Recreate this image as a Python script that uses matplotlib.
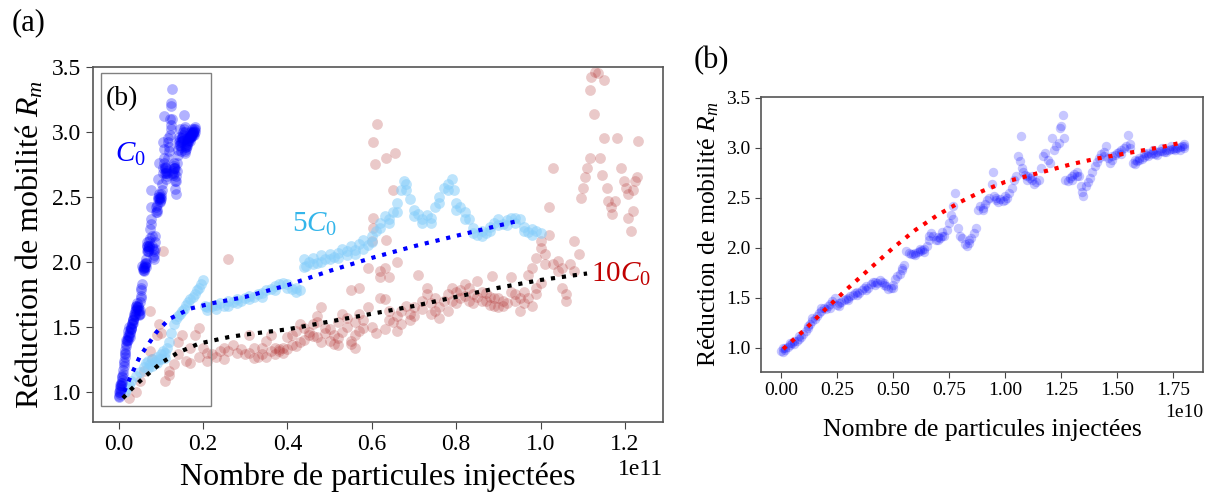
import matplotlib
matplotlib.use("Agg")
import matplotlib.pyplot as plt
from matplotlib.patches import Rectangle
import numpy as np

plt.rcParams['font.family'] = ['Liberation Serif', 'DejaVu Serif']
plt.rcParams['mathtext.fontset'] = 'custom'
plt.rcParams['mathtext.rm'] = 'Liberation Serif'
plt.rcParams['mathtext.it'] = 'Liberation Serif:italic'

# ---------------- data ----------------
# C0 series: x in units of 1e10 injected particles, y = R_m
c0_pts = [
    (0.00, 0.97), (0.01, 0.96), (0.01, 1.00), (0.02, 0.98), (0.03, 1.01), (0.04, 1.03),
    (0.05, 1.05), (0.06, 1.04), (0.07, 1.07), (0.08, 1.09), (0.09, 1.11), (0.10, 1.14),
    (0.11, 1.17), (0.12, 1.20), (0.13, 1.24), (0.14, 1.27), (0.15, 1.29), (0.16, 1.32),
    (0.17, 1.35), (0.18, 1.37), (0.19, 1.40), (0.20, 1.39), (0.21, 1.42), (0.22, 1.44),
    (0.23, 1.47), (0.24, 1.50), (0.25, 1.43), (0.26, 1.42), (0.27, 1.46), (0.28, 1.48),
    (0.29, 1.49), (0.30, 1.50), (0.31, 1.52), (0.32, 1.53), (0.33, 1.55), (0.34, 1.56),
    (0.35, 1.55), (0.36, 1.58), (0.37, 1.60), (0.38, 1.62), (0.39, 1.60), (0.40, 1.64),
    (0.41, 1.66), (0.42, 1.63), (0.43, 1.65), (0.44, 1.68), (0.45, 1.66), (0.46, 1.63),
    (0.47, 1.62), (0.48, 1.59), (0.49, 1.60), (0.50, 1.63), (0.51, 1.69), (0.52, 1.72),
    (0.53, 1.74), (0.54, 1.80), (0.55, 1.83), (0.56, 1.97), (0.57, 1.95), (0.58, 1.94),
    (0.59, 1.94), (0.60, 1.95), (0.61, 1.96), (0.62, 1.97), (0.63, 1.98), (0.64, 1.99),
    (0.65, 2.02), (0.66, 2.08), (0.67, 2.15), (0.68, 2.12), (0.69, 2.08), (0.70, 2.11),
    (0.71, 2.10), (0.72, 2.16), (0.73, 2.12), (0.74, 2.18), (0.75, 2.25), (0.76, 2.33),
    (0.77, 2.42), (0.775, 2.55), (0.77, 2.29), (0.79, 2.20), (0.80, 2.12), (0.81, 2.10),
    (0.82, 2.04), (0.83, 2.02), (0.84, 2.05), (0.85, 2.10), (0.86, 2.15), (0.87, 2.20),
    (0.88, 2.38), (0.89, 2.42), (0.90, 2.40), (0.91, 2.44), (0.92, 2.48), (0.93, 2.50),
    (0.94, 2.64), (0.945, 2.76), (0.95, 2.52), (0.96, 2.48), (0.97, 2.46), (0.98, 2.49),
    (0.99, 2.47), (1.00, 2.52), (1.01, 2.50), (1.02, 2.55), (1.03, 2.60), (1.04, 2.68),
    (1.05, 2.72), (1.06, 2.92), (1.065, 2.87), (1.07, 3.12), (1.075, 2.80), (1.08, 2.76),
    (1.09, 2.73), (1.10, 2.72), (1.11, 2.70), (1.12, 2.68), (1.13, 2.64), (1.14, 2.66),
    (1.15, 2.68), (1.16, 2.80), (1.17, 2.92), (1.18, 2.95), (1.19, 2.88), (1.20, 2.85),
    (1.21, 3.10), (1.22, 2.98), (1.23, 3.02), (1.24, 3.05), (1.245, 3.20), (1.25, 3.22),
    (1.26, 3.33), (1.265, 3.10), (1.27, 2.68), (1.28, 2.67), (1.29, 2.70), (1.30, 2.72),
    (1.31, 2.74), (1.32, 2.76), (1.33, 2.72), (1.34, 2.62), (1.345, 2.56), (1.35, 2.52),
    (1.36, 2.62), (1.37, 2.66), (1.38, 2.70), (1.39, 2.76), (1.40, 2.82), (1.41, 2.86),
    (1.42, 2.90), (1.43, 2.94), (1.44, 2.92), (1.45, 3.02), (1.46, 2.90), (1.47, 2.85),
    (1.48, 2.88), (1.49, 2.93), (1.50, 2.95), (1.51, 2.96), (1.52, 2.98), (1.53, 3.00),
    (1.54, 3.02), (1.55, 3.13), (1.56, 3.04), (1.57, 2.85), (1.58, 2.84), (1.59, 2.87),
    (1.60, 2.88), (1.61, 2.89), (1.62, 2.91), (1.63, 2.93), (1.64, 2.92), (1.65, 2.94),
    (1.66, 2.95), (1.67, 2.94), (1.68, 2.96), (1.69, 2.97), (1.70, 2.97), (1.71, 2.96),
    (1.72, 2.98), (1.73, 2.98), (1.74, 2.99), (1.75, 2.99), (1.76, 3.00), (1.77, 3.00),
    (1.78, 3.01), (1.79, 3.02), (1.80, 3.02), (1.80, 3.04), (1.62, 2.95), (1.66, 2.98),
    (1.70, 3.00), (1.74, 3.02), (1.78, 2.98), (0.60, 1.93), (0.62, 1.99), (0.64, 1.96),
    (0.02, 1.00), (0.04, 1.05), (0.06, 1.07), (0.08, 1.12), (0.12, 1.22), (0.14, 1.30),
    (0.18, 1.40), (0.22, 1.40), (0.26, 1.45), (0.30, 1.48), (0.34, 1.53), (0.38, 1.58),
    (0.42, 1.66), (0.46, 1.65), (0.50, 1.60), (0.54, 1.78), (0.66, 2.12), (0.70, 2.08),
    (0.72, 2.12), (0.84, 2.08), (0.90, 2.38), (0.96, 2.50), (1.00, 2.48), (1.10, 2.68),
    (1.12, 2.72), (1.30, 2.68), (1.32, 2.72), (1.44, 2.96), (1.48, 2.92), (1.52, 2.94),
    (1.56, 3.00), (1.58, 2.88), (1.60, 2.90), (1.64, 2.95), (1.68, 2.93), (1.72, 2.96),
    (1.76, 2.98), (1.80, 3.00),
]

# 5C0 series: x in units of 1e11
c5_pts = [
    (0.015, 1.00), (0.02, 1.03), (0.025, 1.05), (0.03, 1.08), (0.04, 1.12), (0.05, 1.15),
    (0.06, 1.19), (0.065, 1.22), (0.07, 1.24), (0.075, 1.21), (0.08, 1.25), (0.085, 1.23),
    (0.09, 1.27), (0.095, 1.25), (0.10, 1.29), (0.105, 1.31), (0.11, 1.30), (0.115, 1.34),
    (0.12, 1.38), (0.125, 1.45), (0.13, 1.52), (0.135, 1.56), (0.14, 1.58), (0.145, 1.60),
    (0.15, 1.62), (0.155, 1.64), (0.16, 1.67), (0.165, 1.69), (0.17, 1.71), (0.175, 1.73),
    (0.18, 1.75), (0.185, 1.78), (0.19, 1.80), (0.195, 1.83), (0.20, 1.86), (0.205, 1.66),
    (0.21, 1.65), (0.22, 1.66), (0.23, 1.67), (0.24, 1.68), (0.25, 1.66), (0.26, 1.70),
    (0.27, 1.69), (0.28, 1.71), (0.29, 1.70), (0.30, 1.72), (0.31, 1.74), (0.32, 1.73),
    (0.33, 1.75), (0.34, 1.76), (0.35, 1.78), (0.36, 1.79), (0.37, 1.81), (0.38, 1.83),
    (0.39, 1.84), (0.40, 1.83), (0.41, 1.79), (0.42, 1.80), (0.43, 1.78), (0.44, 2.02),
    (0.445, 1.97), (0.45, 2.00), (0.46, 2.03), (0.47, 1.99), (0.48, 2.05), (0.49, 2.02),
    (0.50, 2.06), (0.51, 2.04), (0.52, 2.07), (0.53, 2.10), (0.54, 2.08), (0.55, 2.12),
    (0.56, 2.09), (0.57, 2.14), (0.58, 2.17), (0.59, 2.13), (0.60, 2.20), (0.61, 2.24),
    (0.62, 2.30), (0.63, 2.35), (0.64, 2.33), (0.65, 2.38), (0.66, 2.45), (0.67, 2.55),
    (0.675, 2.62), (0.68, 2.60), (0.69, 2.48), (0.70, 2.40), (0.71, 2.37), (0.72, 2.33),
    (0.73, 2.36), (0.74, 2.34), (0.75, 2.42), (0.76, 2.50), (0.77, 2.57), (0.78, 2.60),
    (0.79, 2.64), (0.795, 2.55), (0.80, 2.45), (0.81, 2.42), (0.82, 2.38), (0.83, 2.33),
    (0.84, 2.26), (0.85, 2.21), (0.86, 2.24), (0.87, 2.22), (0.88, 2.27), (0.89, 2.30),
    (0.90, 2.33), (0.91, 2.29), (0.92, 2.32), (0.93, 2.34), (0.94, 2.30), (0.95, 2.33),
    (0.96, 2.27), (0.97, 2.23), (0.98, 2.21), (0.99, 2.24), (1.00, 2.22),
    (0.21, 1.63), (0.23, 1.64), (0.26, 1.66), (0.28, 1.68), (0.31, 1.71), (0.34, 1.73),
    (0.37, 1.78), (0.40, 1.80), (0.42, 1.77), (0.44, 1.96), (0.46, 1.98), (0.48, 2.00),
    (0.50, 2.02), (0.52, 2.03), (0.54, 2.05), (0.56, 2.06), (0.58, 2.10), (0.60, 2.15),
    (0.62, 2.26), (0.64, 2.30), (0.66, 2.38), (0.68, 2.55), (0.70, 2.35), (0.72, 2.30),
    (0.74, 2.30), (0.76, 2.45), (0.78, 2.55), (0.80, 2.40), (0.82, 2.33), (0.84, 2.22),
    (0.86, 2.20), (0.88, 2.24), (0.90, 2.28), (0.92, 2.28), (0.94, 2.34), (0.96, 2.24),
    (0.98, 2.25), (0.07, 1.18), (0.09, 1.22), (0.11, 1.26), (0.08, 1.20), (0.10, 1.25),
]

# 10C0 series: x in units of 1e11
c10_pts = [
    (0.024, 0.95), (0.04, 1.00), (0.05, 1.08), (0.06, 1.16), (0.075, 1.62), (0.075, 1.31),
    (0.09, 1.44), (0.095, 1.52), (0.106, 2.08), (0.11, 1.08), (0.12, 1.16), (0.13, 1.21),
    (0.14, 1.29), (0.15, 1.44), (0.16, 1.24), (0.17, 1.34), (0.18, 1.44), (0.19, 1.49),
    (0.20, 1.34), (0.21, 1.24), (0.22, 1.29), (0.24, 1.31), (0.26, 2.02), (0.25, 1.34),
    (0.27, 1.36), (0.30, 1.29), (0.31, 1.44), (0.32, 1.34), (0.34, 1.29), (0.35, 1.39),
    (0.36, 1.44), (0.37, 1.34), (0.38, 1.31), (0.39, 1.34), (0.40, 1.42), (0.41, 1.44),
    (0.42, 1.47), (0.43, 1.52), (0.44, 1.49), (0.45, 1.44), (0.46, 1.52), (0.47, 1.54),
    (0.48, 1.65), (0.49, 1.49), (0.50, 1.39), (0.51, 1.44), (0.52, 1.54), (0.53, 1.60),
    (0.54, 1.57), (0.55, 1.39), (0.56, 1.34), (0.56, 1.54), (0.57, 1.60), (0.58, 1.49),
    (0.59, 1.65), (0.59, 1.95), (0.60, 2.16), (0.603, 2.92), (0.613, 3.06), (0.608, 2.75),
    (0.634, 2.80), (0.654, 2.84), (0.603, 2.34), (0.603, 2.26), (0.62, 1.93), (0.62, 1.88),
    (0.64, 1.88), (0.634, 2.17), (0.65, 2.55), (0.62, 1.72), (0.63, 1.71), (0.64, 1.62),
    (0.65, 1.54), (0.66, 1.47), (0.67, 1.52), (0.69, 1.60), (0.70, 1.65), (0.71, 1.90),
    (0.72, 1.70), (0.73, 1.80), (0.73, 1.75), (0.74, 1.60), (0.75, 1.62), (0.76, 1.57),
    (0.77, 1.70), (0.78, 1.75), (0.79, 1.80), (0.80, 1.77), (0.81, 1.72), (0.82, 1.83),
    (0.83, 1.80), (0.84, 1.75), (0.85, 1.85), (0.86, 1.77), (0.87, 1.70), (0.88, 1.67),
    (0.885, 1.89), (0.89, 1.72), (0.90, 1.65), (0.91, 1.70), (0.93, 1.77), (0.93, 1.88),
    (0.94, 1.70), (0.95, 1.62), (0.96, 1.77), (0.97, 1.90), (0.98, 1.95), (0.99, 1.75),
    (0.99, 2.03), (1.00, 2.11), (1.00, 2.16), (1.01, 2.06), (1.01, 1.98), (1.02, 2.21),
    (1.02, 2.42), (1.03, 2.72), (1.03, 1.98), (1.04, 2.01), (1.04, 1.93), (1.05, 1.80),
    (1.06, 1.75), (1.06, 1.70), (1.05, 1.95), (1.07, 1.98), (1.08, 2.16), (1.09, 2.06),
    (1.08, 1.93), (1.095, 2.49), (1.10, 2.57), (1.106, 2.65), (1.11, 2.72), (1.116, 2.80),
    (1.116, 3.32), (1.12, 3.42), (1.13, 3.46), (1.136, 3.45), (1.126, 3.14), (1.15, 3.40),
    (1.14, 2.80), (1.145, 2.67), (1.15, 2.95), (1.157, 2.57), (1.16, 2.47), (1.167, 2.42),
    (1.17, 2.37), (1.177, 2.47), (1.18, 2.95), (1.19, 2.72), (1.198, 2.62), (1.203, 2.57),
    (1.208, 2.52), (1.208, 2.34), (1.213, 2.24), (1.218, 2.39), (1.223, 2.62), (1.229, 2.65),
    (1.23, 2.93), (1.218, 2.55), (0.48, 1.38), (0.51, 1.37), (0.52, 1.41), (0.55, 1.37),
    (0.57, 1.47), (0.36, 1.31), (0.37, 1.29), (0.38, 1.33), (0.39, 1.30), (0.40, 1.33),
    (0.41, 1.36), (0.28, 1.30), (0.33, 1.27), (0.44, 1.40), (0.46, 1.43),
    (0.21, 1.30), (0.23, 1.27), (0.25, 1.25), (0.26, 1.31), (0.29, 1.33), (0.31, 1.30),
    (0.32, 1.26), (0.34, 1.34), (0.35, 1.27), (0.42, 1.35), (0.43, 1.38), (0.45, 1.46),
    (0.47, 1.42), (0.49, 1.45), (0.50, 1.48), (0.52, 1.36), (0.53, 1.46), (0.54, 1.50),
    (0.56, 1.44), (0.58, 1.55), (0.60, 1.50), (0.61, 1.45), (0.63, 1.48), (0.64, 1.55),
    (0.66, 1.58), (0.67, 1.62), (0.68, 1.66), (0.69, 1.55), (0.70, 1.58), (0.72, 1.64),
    (0.74, 1.68), (0.75, 1.72), (0.76, 1.65), (0.78, 1.62), (0.79, 1.70), (0.80, 1.68),
    (0.81, 1.78), (0.82, 1.74), (0.83, 1.70), (0.84, 1.68), (0.85, 1.73), (0.86, 1.70),
    (0.87, 1.76), (0.88, 1.73), (0.89, 1.66), (0.90, 1.72), (0.91, 1.66), (0.92, 1.68),
    (0.94, 1.75), (0.95, 1.72), (0.96, 1.68), (0.97, 1.72), (0.98, 1.66), (0.99, 1.80),
    (1.00, 1.84), (0.63, 1.95), (0.66, 2.00), (0.55, 1.78), (0.57, 1.80), (0.47, 1.58),
    (0.12, 1.13), (0.17, 1.22), (0.19, 1.27), (0.14, 1.38), (0.08, 1.25), (0.10, 1.45),
]

# fitted curves
fit5_x = [0.013, 0.03, 0.05, 0.09, 0.12, 0.17, 0.22, 0.30, 0.40, 0.50, 0.60, 0.70, 0.80, 0.94]
fit5_y = [1.00, 1.13, 1.27, 1.46, 1.56, 1.64, 1.68, 1.73, 1.82, 1.93, 2.03, 2.12, 2.20, 2.31]
fit10_x = [0.01, 0.03, 0.06, 0.10, 0.14, 0.19, 0.26, 0.30, 0.40, 0.50, 0.60, 0.70, 0.80, 0.90, 1.00, 1.11]
fit10_y = [0.95, 1.02, 1.11, 1.22, 1.30, 1.37, 1.42, 1.44, 1.48, 1.54, 1.60, 1.66, 1.73, 1.80, 1.86, 1.91]
fitc0_x = [0.01, 0.10, 0.20, 0.30, 0.40, 0.50, 0.60, 0.70, 0.80, 0.90, 1.00, 1.10, 1.20, 1.30, 1.40, 1.50, 1.60, 1.70, 1.80]
fitc0_y = [0.99, 1.17, 1.39, 1.60, 1.80, 2.00, 2.18, 2.33, 2.46, 2.57, 2.66, 2.72, 2.78, 2.84, 2.89, 2.93, 2.97, 3.01, 3.06]

x_ticks_a = [0.0, 0.2, 0.4, 0.6, 0.8, 1.0, 1.2]
x_ticks_b = [0.0, 0.25, 0.5, 0.75, 1.0, 1.25, 1.5, 1.75]
y_ticks = [1.0, 1.5, 2.0, 2.5, 3.0, 3.5]

# ---------------- figure ----------------
fig = plt.figure(figsize=(12.1, 4.92), dpi=100)
W, H = 1210, 492
def ax_rect(l, r, t, b):
    return [l / W, 1 - b / H, (r - l) / W, (b - t) / H]

axA = fig.add_axes(ax_rect(92.7, 663, 66.7, 421.7))
axB = fig.add_axes(ax_rect(761, 1203, 97, 372))

c0x = np.array([p[0] for p in c0_pts])
c0y = np.array([p[1] for p in c0_pts])
c5x = np.array([p[0] for p in c5_pts])
c5y = np.array([p[1] for p in c5_pts])
c10x = np.array([p[0] for p in c10_pts])
c10y = np.array([p[1] for p in c10_pts])

E11, E10 = 1e11, 1e10

# panel (a)
axA.scatter(c10x * E11, c10y, s=60, color='#b03030', alpha=0.26, linewidths=0, zorder=2)
axA.scatter(c5x * E11, c5y, s=60, color='#87cefa', alpha=0.55, linewidths=0, zorder=3)
axA.scatter(c0x * E10, c0y, s=60, color='blue', alpha=0.3, linewidths=0, zorder=4)
axA.plot(np.array(fit5_x) * E11, fit5_y, ':', color='blue', lw=3, zorder=5)
axA.plot(np.array(fit10_x) * E11, fit10_y, ':', color='black', lw=3, zorder=5)

axA.add_patch(Rectangle((-0.0427 * E11, 0.892), 0.2617 * E11, 2.562,
                        fill=False, edgecolor='#808080', lw=1.0, zorder=6))
axA.text(-0.03 * E11, 3.26, '(b)', fontsize=20, va='center', ha='left', zorder=7)
axA.text(-0.008 * E11, 2.83, '$C_0$', fontsize=21, color='blue', va='center', ha='left')
axA.text(0.41 * E11, 2.29, '5$C_0$', fontsize=21, color='#33b5ea', va='center', ha='left')
axA.text(1.12 * E11, 1.90, '10$C_0$', fontsize=21, color='#c00000', va='center', ha='left')

axA.set_xlim(-0.0616 * E11, 1.290 * E11)
axA.set_ylim(0.769, 3.502)
axA.set_xticks(np.array(x_ticks_a) * E11)
axA.set_yticks(y_ticks)
axA.tick_params(labelsize=17, length=5, color='#444444')
axA.set_xlabel('Nombre de particules injectées', fontsize=23, labelpad=6)
axA.set_ylabel('Réduction de mobilité $R_m$', fontsize=23)
axA.xaxis.get_offset_text().set_fontsize(17)

# panel (b)
axB.scatter(c0x * E10, c0y, s=46, color='blue', alpha=0.22, linewidths=0, zorder=2)
axB.plot(np.array(fitc0_x) * E10, fitc0_y, ':', color='red', lw=3, zorder=3)
axB.set_xlim(-0.089 * E10, 1.884 * E10)
axB.set_ylim(0.76, 3.51)
axB.set_xticks(np.array(x_ticks_b) * E10)
axB.set_yticks(y_ticks)
axB.tick_params(labelsize=14, length=4, color='#444444')
axB.set_xlabel('Nombre de particules injectées', fontsize=18.5, labelpad=14)
axB.set_ylabel('Réduction de mobilité $R_m$', fontsize=18.5)
axB.xaxis.get_offset_text().set_fontsize(14)

for ax in (axA, axB):
    for sp in ax.spines.values():
        sp.set_color('#555555')
        sp.set_linewidth(1.2)

fig.text(12 / W, 1 - 8 / H, '(a)', fontsize=22, va='top', ha='left')
fig.text(694 / W, 1 - 46 / H, '(b)', fontsize=22, va='top', ha='left')

fig.savefig('out.png', dpi=100)
